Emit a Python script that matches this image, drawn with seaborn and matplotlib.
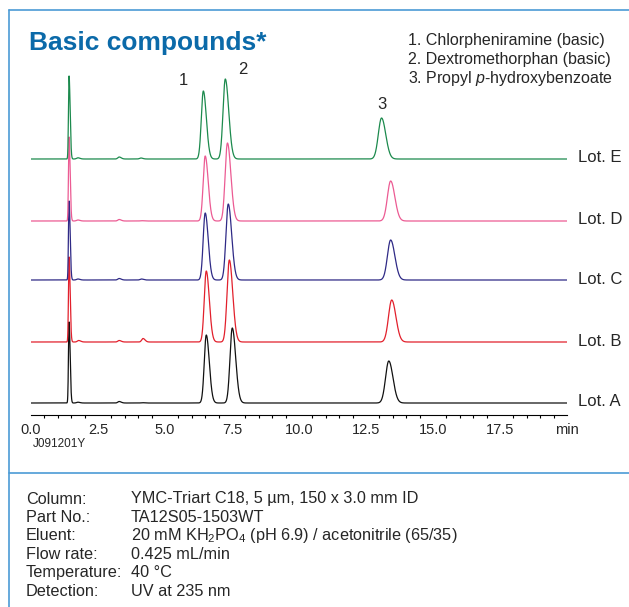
import numpy as np
import pandas as pd
import matplotlib.pyplot as plt
from matplotlib.lines import Line2D
from matplotlib.ticker import MultipleLocator
import seaborn as sns

# lots, bottom to top, with trace colour and stacking offset (signal units)
lots = ["Lot. A", "Lot. B", "Lot. C", "Lot. D", "Lot. E"]
colors = ["#111111", "#e2202c", "#2f2a86", "#ec5b93", "#1c8a4d"]
offset = [12, 73, 135, 194, 256]

# peak table: retention time (min) and height
void_t = [1.42, 1.42, 1.42, 1.42, 1.42]
void_h = [81, 85, 79, 84, 83]
p1_t = [6.54, 6.54, 6.50, 6.50, 6.43]
p1_h = [68, 71, 67, 65, 68]
p2_t = [7.51, 7.40, 7.36, 7.33, 7.25]
p2_h = [75, 82, 76, 78, 80]
p3_t = [13.35, 13.46, 13.42, 13.42, 13.08]
p3_h = [42, 42, 40, 40, 41]
imp0_t = [1.75, 1.78, 1.75, 1.75, 1.75]
imp0_h = [0.8, 1.5, 1.0, 1.0, 1.2]
imp1_t = [3.29, 3.29, 3.29, 3.29, 3.29]
imp1_h = [1.5, 1.5, 1.5, 1.5, 2.0]
imp2_t = [4.15, 4.18, 4.12, 4.12, 4.10]
imp2_h = [0.3, 3.5, 1.0, 0.3, 1.0]
# peak widths (sigma, min)
w_void, w_p1, w_p2, w_p3, w_imp = 0.022, 0.075, 0.085, 0.12, 0.05

tick_labels = ["0.0", "2.5", "5.0", "7.5", "10.0", "12.5", "15.0", "17.5", "min"]

legend_lines = ["1. Chlorpheniramine (basic)",
                "2. Dextromethorphan (basic)",
                "3. Propyl $\\it{p}$-hydroxybenzoate"]
cond_keys = ["Column:", "Part No.:", "Eluent:", "Flow rate:", "Temperature:", "Detection:"]
cond_vals = ["YMC-Triart C18, 5 µm, 150 x 3.0 mm ID",
             "TA12S05-1503WT",
             "20 mM KH$_2$PO$_4$ (pH 6.9) / acetonitrile (65/35)",
             "0.425 mL/min",
             "40 °C",
             "UV at 235 nm"]


def peak(t, t0, h, s, tail=1.5):
    sig = np.where(t < t0, s, s * tail)
    return h * np.exp(-0.5 * ((t - t0) / sig) ** 2)


t = np.arange(0, 20.0001, 0.004)
frames = []
for i, lot in enumerate(lots):
    y = (peak(t, void_t[i], void_h[i], w_void, 1.8)
         + peak(t, imp0_t[i], imp0_h[i], w_imp)
         + peak(t, imp1_t[i], imp1_h[i], w_imp)
         + peak(t, imp2_t[i], imp2_h[i], w_imp)
         + peak(t, p1_t[i], p1_h[i], w_p1)
         + peak(t, p2_t[i], p2_h[i], w_p2)
         + peak(t, p3_t[i], p3_h[i], w_p3, 1.3))
    frames.append(pd.DataFrame({"time": t, "signal": y + offset[i], "lot": lot}))
df = pd.concat(frames, ignore_index=True)

sns.set_style("white")
plt.rcParams["font.family"] = ["Liberation Sans", "DejaVu Sans"]
plt.rcParams["mathtext.fontset"] = "custom"
plt.rcParams["mathtext.rm"] = "Liberation Sans"
plt.rcParams["mathtext.it"] = "Liberation Sans:italic"

W, H = 629, 607
fig = plt.figure(figsize=(W / 100, H / 100), dpi=100)


def fx(px):
    return px / W


def fy(py):
    return 1 - py / H


ax = fig.add_axes([fx(31), fy(415), fx(567) - fx(31), fy(60) - fy(415)])
sns.lineplot(data=df, x="time", y="signal", hue="lot", hue_order=lots,
             palette=colors, estimator=None, sort=False, legend=False,
             linewidth=0.9, ax=ax)
ax.set_xlim(0, 20)
ax.set_ylim(0, 355)
for s in ["left", "top", "right"]:
    ax.spines[s].set_visible(False)
ax.spines["bottom"].set_color("black")
ax.spines["bottom"].set_linewidth(0.8)
ax.set_xticks(np.arange(0, 20.01, 2.5))
ax.set_xticklabels(tick_labels)
ax.xaxis.set_minor_locator(MultipleLocator(0.5))
ax.tick_params(axis="x", which="major", direction="out", length=3.5, width=0.8,
               color="black", labelsize=10.5, pad=2)
ax.tick_params(axis="x", which="minor", direction="out", length=2.2, width=0.8,
               color="black", bottom=True)
ax.set_yticks([])
ax.set_xlabel("")
ax.set_ylabel("")

for i, lot in enumerate(lots):
    ax.text(20.4, offset[i] + 1, lot, fontsize=12, va="center", ha="left", clip_on=False)

# peak numbers
ax.text(p1_t[4] - 0.75, p1_h[4] + offset[4] + 3, "1", fontsize=12, ha="center", va="bottom")
ax.text(p2_t[4] + 0.65, p2_h[4] + offset[4] + 2, "2", fontsize=12, ha="center", va="bottom")
ax.text(p3_t[4], p3_h[4] + offset[4] + 6, "3", fontsize=12, ha="center", va="bottom")

# frame
blue = "#4b9bd5"
fig.add_artist(Line2D([fx(9), 1], [fy(10), fy(10)], color=blue, lw=1.2))
fig.add_artist(Line2D([fx(9), fx(9)], [fy(10), 0], color=blue, lw=1.2))
fig.add_artist(Line2D([fx(9), 1], [fy(473), fy(473)], color=blue, lw=1.2))

fig.text(fx(29), fy(43), "Basic compounds*", fontsize=19, fontweight="bold",
         color="#0b6aa9", va="center", ha="left")
for k, line in enumerate(legend_lines):
    fig.text(fx(408), fy(40 + 19.5 * k), line, fontsize=11.5, va="center", ha="left")

fig.text(fx(33), fy(444), "J091201Y", fontsize=8.5, va="center", ha="left")

for k in range(len(cond_keys)):
    yy = fy(499 + 18.4 * k)
    fig.text(fx(26), yy, cond_keys[k], fontsize=11.7, va="center", ha="left")
    fig.text(fx(131), yy, cond_vals[k], fontsize=11.7, va="center", ha="left")

fig.savefig("out.png", dpi=100)
